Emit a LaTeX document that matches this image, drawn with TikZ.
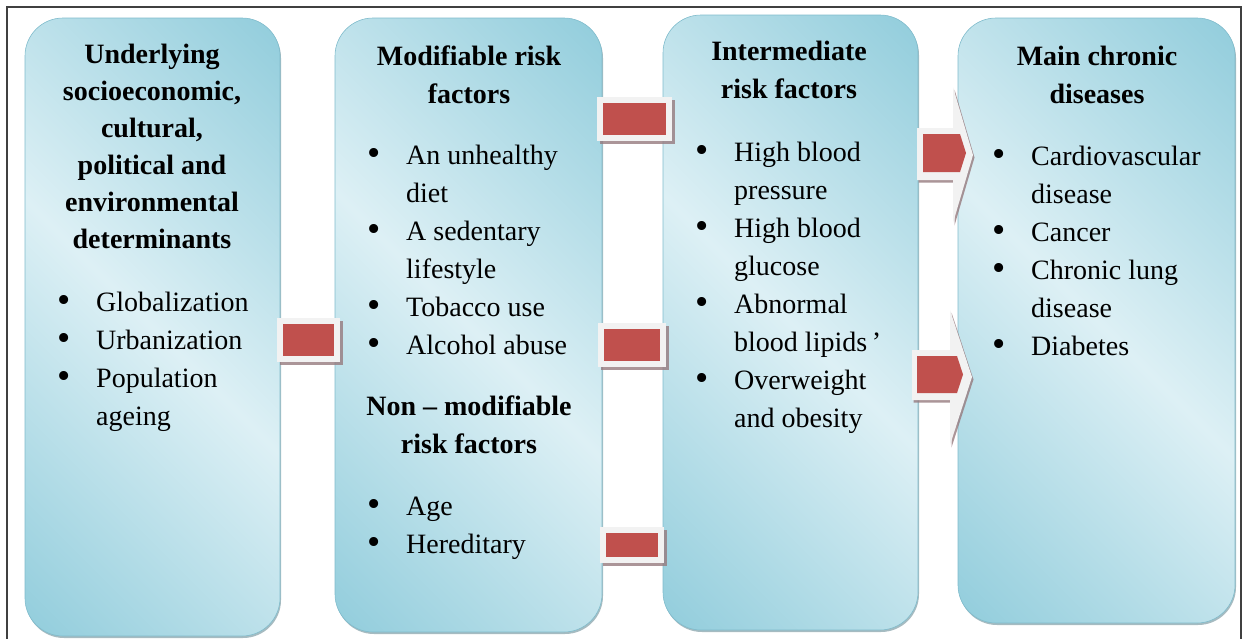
\documentclass[tikz,border=0pt]{standalone}
\usepackage{fontspec}
\setmainfont{Liberation Serif}
\usetikzlibrary{shadows}

\definecolor{boxdark}{RGB}{146,205,220}
\definecolor{boxlight}{RGB}{221,240,245}
\definecolor{boxedge}{RGB}{128,188,204}
\definecolor{linkred}{RGB}{192,80,77}
\definecolor{linkframe}{RGB}{242,242,242}
\definecolor{linkshadow}{RGB}{150,122,126}

% light band running across each column from top left to bottom right
\pgfdeclarehorizontalshading{boxshade}{100bp}{color(0bp)=(boxdark); color(15bp)=(boxdark); color(50bp)=(boxlight); color(85bp)=(boxdark); color(100bp)=(boxdark)}

\newcommand{\itm}{\makebox[39pt][l]{\raisebox{-1.5pt}{\scalebox{1.35}{\textbullet}}}}
\newcommand{\gap}{\hspace{39pt}}

\begin{document}
\begin{tikzpicture}[x=1pt,y=-1pt,
   frame/.style={draw=black!75, line width=1.5pt},
   box/.style={shade, shading=boxshade, shading angle=45, rounded corners=38pt,
      draw=boxedge, line width=0.6pt, inner sep=0pt,
      drop shadow={shadow xshift=1pt, shadow yshift=-2pt, fill=boxedge!50!gray, opacity=.7}},
   txt/.style={inner sep=0pt, font=\fontsize{28}{38}\selectfont},
   head/.style={txt, font=\fontsize{28}{38}\selectfont\bfseries},
   link/.style={fill=linkframe, inner sep=0pt,
      drop shadow={shadow xshift=2.5pt, shadow yshift=-3pt, fill=linkshadow, opacity=.8},
      path picture={\fill[linkred] ([shift={(6pt,6pt)}]path picture bounding box.south west)
         rectangle ([shift={(-6pt,-6pt)}]path picture bounding box.north east);}},
   arrowbody/.style={fill=linkframe,
      drop shadow={shadow xshift=1.5pt, shadow yshift=-2.5pt, fill=linkshadow, opacity=.8}},
   arrowhead/.style={fill=linkred}]

   \useasboundingbox (0,0) rectangle (1245,638);
   \draw[frame] (7,7) rectangle (1241,660);

   % the four columns
   \node[box, minimum width=255pt, minimum height=618pt] (b1) at (152.5,327) {};
   \node[box, minimum width=267pt, minimum height=614pt] (b2) at (468.5,325) {};
   \node[box, minimum width=255pt, minimum height=615pt] (b3) at (790.5,322.5) {};
   \node[box, minimum width=277pt, minimum height=605pt] (b4) at (1096.5,320.5) {};

   \node[head, anchor=base] (h1) at (152,63) {\fontsize{28}{37}\selectfont
      \begin{tabular}[t]{@{}c@{}}Underlying\\socioeconomic,\\cultural,\\political and\\environmental\\determinants\end{tabular}};
   \node[txt, anchor=base west] (l1) at (57,311)
      {\begin{tabular}[t]{@{}l@{}}\itm Globalization\\\itm Urbanization\\\itm Population\\\gap ageing\end{tabular}};

   \node[head, anchor=base] (h2) at (469,65)
      {\begin{tabular}[t]{@{}c@{}}Modifiable risk\\factors\end{tabular}};
   \node[txt, anchor=base west] (l2) at (367,164)
      {\begin{tabular}[t]{@{}l@{}}\itm An unhealthy\\\gap diet\\\itm A sedentary\\\gap lifestyle\\\itm Tobacco use\\\itm Alcohol abuse\end{tabular}};
   \node[head, anchor=base] (h2b) at (469,415)
      {\begin{tabular}[t]{@{}c@{}}Non – modifiable\\risk factors\end{tabular}};
   \node[txt, anchor=base west] (l2b) at (367,515)
      {\begin{tabular}[t]{@{}l@{}}\itm Age\\\itm Hereditary\end{tabular}};

   \node[head, anchor=base] (h3) at (789,60)
      {\begin{tabular}[t]{@{}c@{}}Intermediate\\risk factors\end{tabular}};
   \node[txt, anchor=base west] (l3) at (695,161)
      {\begin{tabular}[t]{@{}l@{}}\itm High blood\\\gap pressure\\\itm High blood\\\gap glucose\\\itm Abnormal\\\gap blood lipids\,’\\\itm Overweight\\\gap and obesity\end{tabular}};

   \node[head, anchor=base] (h4) at (1097,65)
      {\begin{tabular}[t]{@{}c@{}}Main chronic\\diseases\end{tabular}};
   \node[txt, anchor=base west] (l4) at (992,165)
      {\begin{tabular}[t]{@{}l@{}}\itm Cardiovascular\\\gap disease\\\itm Cancer\\\itm Chronic lung\\\gap disease\\\itm Diabetes\end{tabular}};

   % links between the columns
   \node[link, minimum width=63pt, minimum height=44pt] (c1) at (308.5,340) {};
   \node[link, minimum width=75pt, minimum height=44pt] (c2) at (634.5,119) {};
   \node[link, minimum width=68pt, minimum height=44pt] (c3) at (632,345) {};
   \node[link, minimum width=64pt, minimum height=36pt] (c4) at (632,544.5) {};

   % arrows into the last column
   \path[arrowbody] (917,128) -- (953,128) -- (953,87) -- (973,155) -- (953,223) -- (953,180) -- (917,180) -- cycle;
   \path[arrowhead] (923,134) -- (960,134) -- (966,153) -- (960,172) -- (923,172) -- cycle;
   \path[arrowbody] (912,350) -- (950,350) -- (950,310) -- (972,377) -- (950,445) -- (950,400) -- (912,400) -- cycle;
   \path[arrowhead] (917,356) -- (957,356) -- (963,374.5) -- (957,393) -- (917,393) -- cycle;
\end{tikzpicture}
\end{document}
